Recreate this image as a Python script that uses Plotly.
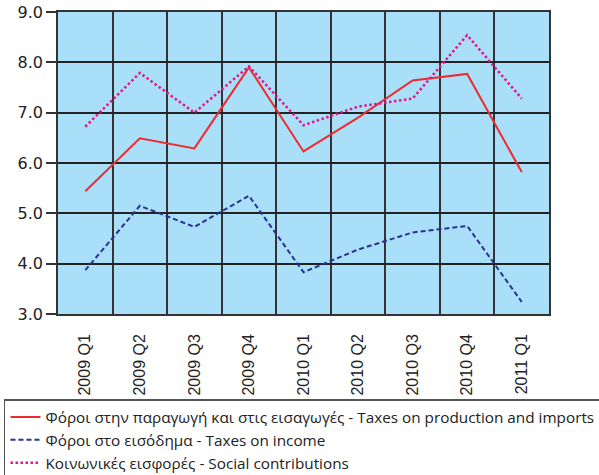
import plotly.graph_objects as go

categories = ["2009 Q1", "2009 Q2", "2009 Q3", "2009 Q4", "2010 Q1",
              "2010 Q2", "2010 Q3", "2010 Q4", "2011 Q1"]
production_imports = [5.44, 6.49, 6.29, 7.90, 6.23, 6.90, 7.64, 7.77, 5.82]
income = [3.87, 5.15, 4.73, 5.35, 3.83, 4.28, 4.62, 4.75, 3.24]
social = [6.72, 7.79, 7.00, 7.92, 6.75, 7.12, 7.28, 8.54, 7.28]

names = [
    "Φόροι στην παραγωγή και στις εισαγωγές - Taxes on production and imports",
    "Φόροι στο εισόδημα - Taxes on income",
    "Κοινωνικές εισφορές - Social contributions",
]

xpos = list(range(len(categories)))

fig = go.Figure()
fig.add_trace(go.Scatter(x=xpos, y=production_imports, mode="lines", name=names[0],
                         line=dict(color="#ee2b2f", width=2)))
fig.add_trace(go.Scatter(x=xpos, y=income, mode="lines", name=names[1],
                         line=dict(color="#2b3192", width=2, dash="5px,3px")))
fig.add_trace(go.Scatter(x=xpos, y=social, mode="lines", name=names[2],
                         line=dict(color="#e6158c", width=2.5, dash="2.5px,2.5px")))

fig.update_layout(
    width=599, height=475,
    margin=dict(l=58, r=50, t=12, b=161, autoexpand=False),
    paper_bgcolor="white",
    plot_bgcolor="#a9dff8",
    showlegend=True,
    legend=dict(
        x=-0.11, xanchor="left", y=-0.2815, yanchor="top",
        bgcolor="white", bordercolor="#555555", borderwidth=1.5,
        font=dict(family="Open Sans", size=15.3, color="#222222"),
        tracegroupgap=0, itemwidth=30,
    ),
    xaxis=dict(
        automargin=False,
        range=[-0.5, len(categories) - 0.5],
        tickmode="array", tickvals=xpos, ticktext=categories,
        tickangle=-90,
        ticks="outside", ticklen=12, tickcolor="rgba(0,0,0,0)",
        tickfont=dict(family="Liberation Sans", size=16, color="#222222"),
        showgrid=False, zeroline=False,
        showline=True, linecolor="#333333", linewidth=1.5, mirror=True,
        minor=dict(tickmode="array",
                   tickvals=[i - 0.5 for i in range(len(categories) + 1)],
                   showgrid=True, gridcolor="#333333", gridwidth=1.5,
                   ticks=""),
    ),
    yaxis=dict(
        automargin=False,
        range=[3.0, 9.0], dtick=1.0, tickformat=".1f",
        ticks="outside", ticklen=10, tickcolor="#333333", tickwidth=1.5,
        tickfont=dict(family="DejaVu Sans", size=16, color="#222222"),
        showgrid=True, gridcolor="#222222", gridwidth=1.5,
        zeroline=False,
        showline=True, linecolor="#333333", linewidth=1.5, mirror=True,
    ),
)

fig.write_html("out.html", config={"displayModeBar": False},
               post_script="document.body.style.margin='0';")
